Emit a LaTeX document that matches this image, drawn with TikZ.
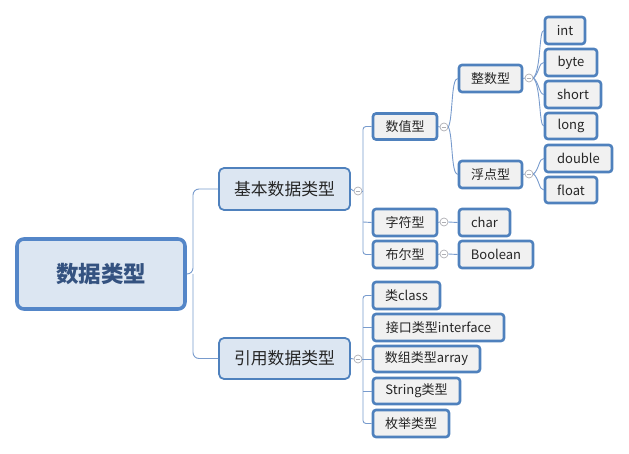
\documentclass[tikz,border=0pt]{standalone}
\usepackage{fontspec}
\setmainfont{Noto Sans CJK SC}
\newfontfamily\cjk{Noto Sans CJK SC}
\definecolor{bordblue}{RGB}{79,129,189}
\definecolor{rootblue}{RGB}{84,134,200}
\definecolor{lvfill}{RGB}{220,230,242}
\definecolor{smfill}{RGB}{241,241,241}
\definecolor{linec}{RGB}{120,155,205}
\definecolor{circc}{RGB}{175,175,180}
\definecolor{roottext}{RGB}{52,82,128}
\begin{document}
\begin{tikzpicture}[x=1pt,y=-1pt,
  rootbox/.style={draw=rootblue,line width=3.6pt,fill=lvfill,rounded corners=7pt,inner sep=0pt,font=\fontsize{22.5}{26}\selectfont\bfseries,text=roottext},
  lvbox/.style={draw=bordblue,line width=1.8pt,fill=lvfill,rounded corners=5pt,inner sep=0pt,font=\fontsize{16.8}{19}\selectfont,text=black!85},
  smbox/.style={draw=bordblue,line width=2.6pt,fill=smfill,rounded corners=3pt,inner sep=0pt,font=\fontsize{13}{15}\selectfont,text=black!85},
  conn/.style={draw=linec,line width=0.9pt},
  coll/.style={circle,draw=circc,line width=0.7pt,fill=white,minimum size=8pt,inner sep=0pt,
    path picture={\draw[circc,line width=0.7pt] ([xshift=-2.3pt]path picture bounding box.center) -- ([xshift=2.3pt]path picture bounding box.center);}}
]
\useasboundingbox (0,0) rectangle (629,454);
% root
\node[rootbox,minimum width=168pt,minimum height=70pt] (root) at (101,274) {数据类型};
% level 2
\node[lvbox,minimum width=131pt,minimum height=42pt] (jiben) at (284.5,189) {基本数据类型};
\node[lvbox,minimum width=131pt,minimum height=41pt] (yinyong) at (284.5,358.5) {引用数据类型};
% level 3 (basic)
\node[smbox,minimum width=64pt,minimum height=26pt] (shuzhi) at (405,126.5) {数值型};
\node[smbox,minimum width=64pt,minimum height=27pt] (zifu) at (405,222.5) {字符型};
\node[smbox,minimum width=64pt,minimum height=27pt] (buer) at (405,254.5) {布尔型};
% level 4
\node[smbox,minimum width=63pt,minimum height=27pt] (zhengshu) at (490.5,78.5) {整数型};
\node[smbox,minimum width=63pt,minimum height=27pt] (fudian) at (490.5,174.5) {浮点型};
\node[smbox,minimum width=51pt,minimum height=27pt] (char) at (484.5,222.5) {char};
\node[smbox,minimum width=74pt,minimum height=27pt] (bool) at (496,254.5) {Boolean};
% level 5
\node[smbox,minimum width=40pt,minimum height=27pt] (int) at (565,30.5) {int};
\node[smbox,minimum width=52pt,minimum height=27pt] (byte) at (571,62.5) {byte};
\node[smbox,minimum width=56pt,minimum height=27pt] (short) at (573,94.5) {short};
\node[smbox,minimum width=52pt,minimum height=26pt] (long) at (571,126) {long};
\node[smbox,minimum width=67pt,minimum height=27pt] (double) at (578.5,158.5) {double};
\node[smbox,minimum width=52pt,minimum height=26pt] (float) at (571,190) {float};
% reference types
\node[smbox,minimum width=67pt,minimum height=27pt] (cls) at (406.5,295.5) {类class};
\node[smbox,minimum width=131pt,minimum height=27pt] (intf) at (438.5,327.5) {接口类型interface};
\node[smbox,minimum width=107pt,minimum height=26pt] (arr) at (426.5,359) {数组类型array};
\node[smbox,minimum width=87pt,minimum height=26pt] (str) at (416.5,391) {String类型};
\node[smbox,minimum width=76pt,minimum height=27pt] (enum) at (411,423.5) {枚举类型};
% collapse markers
\node[coll] (cj) at (358,191) {};
\node[coll] (cy) at (358,359) {};
\node[coll] (cs) at (444,127) {};
\node[coll] (cz) at (444,222) {};
\node[coll] (cb) at (444,254) {};
\node[coll] (czs) at (529,78) {};
\node[coll] (cfd) at (529,174) {};
% root connectors
\coordinate (rj) at (193,274);
\draw[conn,rounded corners=6pt] (root.east) -- (rj) |- (jiben.west);
\draw[conn,rounded corners=6pt] (rj) |- (yinyong.west);
% basic
\draw[conn] (jiben.east) -- (cj.west);
\coordinate (vb) at (363,191);
\draw[conn] (cj.east) -- (vb);
\draw[conn,rounded corners=3pt] (vb) |- (shuzhi.west);
\draw[conn,rounded corners=3pt] (vb) |- (buer.west);
\draw[conn] (363,222) -- (zifu.west);
\draw[conn] (shuzhi.east) -- (cs.west);
\draw[conn] (zifu.east) -- (cz.west);
\draw[conn] (buer.east) -- (cb.west);
\draw[conn] (cz.east) -- (char.west);
\draw[conn] (cb.east) -- (bool.west);
\draw[conn] (cs.east) .. controls (453,118) and (451,78) .. (zhengshu.west);
\draw[conn] (cs.east) .. controls (453,136) and (451,174) .. (fudian.west);
\draw[conn] (zhengshu.east) -- (czs.west);
\draw[conn] (fudian.east) -- (cfd.west);
\draw[conn] (czs.east) .. controls (541,70) and (539,30) .. (int.west);
\draw[conn] (czs.east) .. controls (539,74) and (539,62) .. (byte.west);
\draw[conn] (czs.east) .. controls (539,82) and (539,94) .. (short.west);
\draw[conn] (czs.east) .. controls (541,86) and (539,126) .. (long.west);
\draw[conn] (cfd.east) .. controls (539,170) and (539,158) .. (double.west);
\draw[conn] (cfd.east) .. controls (539,178) and (539,190) .. (float.west);
% reference
\draw[conn] (yinyong.east) -- (cy.west);
\coordinate (vy) at (363,359);
\draw[conn] (cy.east) -- (vy);
\draw[conn,rounded corners=3pt] (vy) |- (cls.west);
\draw[conn,rounded corners=3pt] (vy) |- (enum.west);
\draw[conn] (363,327.5) -- (intf.west);
\draw[conn] (vy) -- (arr.west);
\draw[conn] (363,391) -- (str.west);
\end{tikzpicture}
\end{document}
